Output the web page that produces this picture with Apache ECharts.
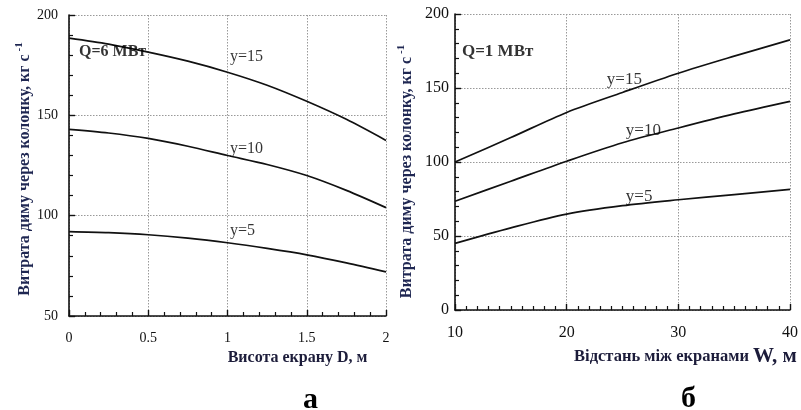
<!DOCTYPE html>
<html><head><meta charset="utf-8">
<script src="https://cdn.jsdelivr.net/npm/echarts@6/dist/echarts.min.js"></script>
<style>html,body{margin:0;padding:0;background:#fff}#c{width:801px;height:410px}</style>
</head><body><div id="c"></div>
<script>
// Panel а: smoke flow vs screen height D (Q=6 MW)
const xD = [0, 0.25, 0.5, 0.75, 1, 1.25, 1.5, 1.75, 2];
const y15Left = [188.5, 185.5, 181.5, 177, 171.5, 165, 157, 148, 137.5];
const y10Left = [143, 141.2, 138.5, 134.6, 130, 125.5, 120, 112.6, 104];
const y5Left = [92, 91.5, 90.5, 88.8, 86.5, 83.7, 80.5, 76.5, 72];
// Panel б: smoke flow vs distance between screens W (Q=1 MW)
const xW = [10, 15, 20, 25, 30, 35, 40];
const y15Right = [100, 116.5, 133.5, 147, 160, 171.5, 182.5];
const y10Right = [73.5, 87, 100.5, 113, 123, 132.5, 141];
const y5Right = [45, 55.5, 64.8, 70.5, 74.5, 78, 81.5];
// annotations [x, y, text, bold]
const leftLabels = [[0.063, 181.5, 'Q=6 МВт', true], [1.016, 179, 'y=15', false], [1.016, 133.5, 'y=10', false], [1.016, 92.5, 'y=5', false]];
const rightLabels = [[10.62, 174.3, 'Q=1 МВт', true], [23.6, 155.4, 'y=15', false], [25.3, 121, 'y=10', false], [25.3, 76.4, 'y=5', false]];
const yTitle = 'Витрата диму через колонку, кг с';
const xTitleLeft = 'Висота екрану D, м';
const xTitleRightA = 'Відстань між екранами ';
const xTitleRightB = 'W, м';

const SERIF = "'Liberation Serif', 'Times New Roman', serif";
const chart = echarts.init(document.getElementById('c'), null, {renderer: 'canvas'});
const pair = (xs, ys) => xs.map((x, i) => [x, ys[i]]);
const gridLine = {show: true, lineStyle: {color: '#999', type: [1.5, 1.5], width: 1}};
const axisLineStyle = {show: true, lineStyle: {color: '#111', width: 1.6}};
function valAxis(gi, min, max, interval, minorSplit, fontSize, margin, extra) {
  return Object.assign({
    type: 'value', gridIndex: gi, min: min, max: max, interval: interval,
    axisLine: axisLineStyle,
    axisTick: {show: true, inside: true, length: 6, lineStyle: {color: '#111', width: 1.4}},
    minorTick: {show: true, splitNumber: minorSplit, length: 4, lineStyle: {color: '#111', width: 1.2}},
    splitLine: gridLine,
    axisLabel: {fontFamily: SERIF, fontSize: fontSize, color: '#111', margin: margin}
  }, extra || {});
}
function lineSeries(xi, data) {
  return {type: 'line', xAxisIndex: xi, yAxisIndex: xi, data: data, smooth: 0.3, symbol: 'none',
    lineStyle: {color: '#111', width: 1.7}, z: 3, silent: true};
}
function labelSeries(xi, labels, fsNormal, fsBold) {
  return {type: 'scatter', xAxisIndex: xi, yAxisIndex: xi, symbolSize: 0, z: 5, silent: true,
    data: labels.map(l => ({value: [l[0], l[1]], label: {
      show: true, position: 'right', distance: 0, formatter: l[2], fontFamily: SERIF,
      fontSize: l[3] ? fsBold : fsNormal, fontWeight: l[3] ? 'bold' : 'normal', color: '#000'}}))};
}
const yNameStyle = (padRight) => ({
  fontFamily: SERIF, fontWeight: 'bold', fontSize: 16, color: '#1f2752',
  padding: [0, padRight, 0, 0],
  rich: {sup: {fontFamily: SERIF, fontWeight: 'bold', fontSize: 11, color: '#1f2752', padding: [0, 0, 11, 3]}}
});
chart.setOption({
  animation: false,
  backgroundColor: '#fff',
  grid: [
    {left: 69, top: 15, width: 317, height: 301},
    {left: 455, top: 14, width: 337, height: 296}
  ],
  xAxis: [
    valAxis(0, 0, 2, 0.5, 5, 14, 15, {
      name: xTitleLeft, nameLocation: 'middle', nameGap: 34,
      nameTextStyle: {fontFamily: SERIF, fontWeight: 'bold', fontSize: 16, color: '#1c1c3a', padding: [0, 0, 0, 140]}
    }),
    valAxis(1, 10, 40, 10, 10, 16, 15, {
      name: '{a|' + xTitleRightA + '}{b|' + xTitleRightB + '}', nameLocation: 'middle', nameGap: 21,
      nameTextStyle: {padding: [0, 0, 0, 126], rich: {
        a: {fontFamily: SERIF, fontWeight: 'bold', fontSize: 16.5, color: '#1c1c3a'},
        b: {fontFamily: SERIF, fontWeight: 'bold', fontSize: 21, color: '#1c1c3a'}}}
    })
  ],
  yAxis: [
    valAxis(0, 50, 200, 50, 5, 14, 11, {
      name: yTitle + '{sup|-1}', nameLocation: 'middle', nameGap: 33, nameRotate: 90,
      nameTextStyle: yNameStyle(7)
    }),
    valAxis(1, 0, 200, 50, 5, 16, 6, {
      name: yTitle + '{sup|-1}', nameLocation: 'middle', nameGap: 37, nameRotate: 90,
      nameTextStyle: yNameStyle(19)
    })
  ],
  series: [
    lineSeries(0, pair(xD, y15Left)),
    lineSeries(0, pair(xD, y10Left)),
    lineSeries(0, pair(xD, y5Left)),
    lineSeries(1, pair(xW, y15Right)),
    lineSeries(1, pair(xW, y10Right)),
    lineSeries(1, pair(xW, y5Right)),
    labelSeries(0, leftLabels, 16, 16),
    labelSeries(1, rightLabels, 17, 17)
  ],
  graphic: [
    {type: 'text', left: 303, top: 385, style: {text: 'а', font: 'bold 30px ' + SERIF, fill: '#000'}},
    {type: 'text', left: 681, top: 384, style: {text: 'б', font: 'bold 30px ' + SERIF, fill: '#000'}}
  ]
});
</script></body></html>
